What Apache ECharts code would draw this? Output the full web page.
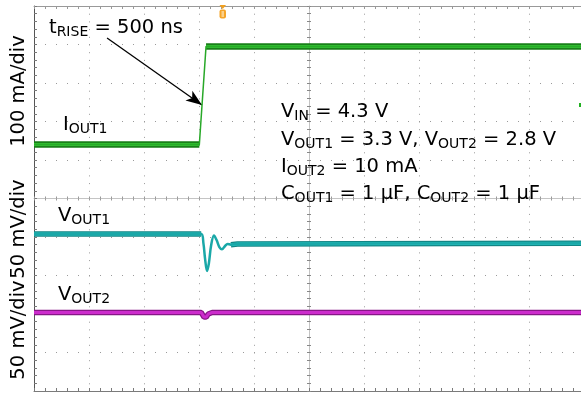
<!DOCTYPE html>
<html><head><meta charset="utf-8">
<script src="https://cdn.jsdelivr.net/npm/echarts/dist/echarts.min.js"></script>
<style>html,body{margin:0;padding:0;background:#fff}#c{width:581px;height:396px}</style>
</head><body><div id="c"></div>
<script>
// time in µs (5 µs/div), values read from the scope shot
const ioutTime = [0, 15.03, 15.64, 50];
const ioutMA   = [0, 0, 255, 255];               // I_OUT1 step (mA, 100 mA/div)
const vout1Time = [0, 15.2, 15.4, 15.55, 15.73, 15.9, 16.1, 16.36, 16.6, 16.85, 17.09, 17.35, 17.6, 17.9, 18.5, 50];
const vout1mV   = [0, 0, -12, -32, -48, -38, -15, -2, -8, -17, -20, -16, -13, -14, -13, -12]; // ΔV_OUT1 (mV, 50 mV/div)
const vout2Time = [0, 15.2, 15.45, 15.65, 15.85, 16.2, 50];
const vout2mV   = [0, 0, -6, -6, -2, 0, 0];      // ΔV_OUT2 (mV, 50 mV/div)
const scaleLabels = ['100 mA/div', '50 mV/div', '50 mV/div'];
const arrowFrom = [6.64, 277];   // (µs, mA)
const arrowTo   = [15.27, 103];

const pairs = (ts, vs) => ts.map((t, i) => [t, vs[i]]);
// steady parts (noise band) exclude the transient window [a, b]
function steady(ts, vs, a, b) {
  const out = []; let prevIn = null;
  ts.forEach((t, i) => {
    const isIn = (t <= a || t >= b);
    if (isIn) {
      if (prevIn !== null && prevIn <= a && t >= b) out.push('-');
      out.push([t, vs[i]]); prevIn = t;
    } else if (out.length && out[out.length - 1] !== '-') { out.push('-'); prevIn = null; }
  });
  return out;
}

const FONT = 'DejaVu Sans';
const rich = {
  m: {fontFamily: FONT, fontSize: 19.5, lineHeight: 22, fill: '#000'},
  s: {fontFamily: FONT, fontSize: 14, lineHeight: 10, verticalAlign: 'bottom', fill: '#000'}
};
function label(x, baseline, text) {
  return {type: 'text', x: x, y: baseline - 17, silent: true, z: 50,
    style: {text: text, rich: rich, verticalAlign: 'top', align: 'left'}};
}
function vlabel(cx, cy, text) {
  return {type: 'text', x: cx, y: cy, rotation: Math.PI / 2, silent: true, z: 50,
    style: {text: text, fontFamily: FONT, fontSize: 19.5, fill: '#000', align: 'center', verticalAlign: 'middle'}};
}

const AX = '#7a7a7a';
const baseX = {type: 'value', min: 0, max: 50, interval: 5, axisLabel: {show: false}, splitLine: {show: false}};
const baseY = {type: 'value', min: 0, max: 10, interval: 1, axisLabel: {show: false}, splitLine: {show: false}};

const chart = echarts.init(document.getElementById('c'), null, {renderer: 'canvas'});
chart.setOption({
  animation: false,
  backgroundColor: '#fff',
  grid: {left: 34, top: 6, width: 550, height: 385, outerBoundsMode: 'none', containLabel: false},
  xAxis: [
    Object.assign({}, baseX, {position: 'bottom', axisLine: {onZero: false, lineStyle: {color: AX}},
      axisTick: {show: true, inside: true, length: 3, lineStyle: {color: AX}},
      minorTick: {show: true, splitNumber: 5, length: 3, lineStyle: {color: AX}},
      splitLine: {show: true, lineStyle: {color: '#9a9a9a', width: 1, type: [1, 6.7]}}}),
    Object.assign({}, baseX, {position: 'top', axisLine: {onZero: false, lineStyle: {color: '#999'}},
      axisTick: {show: true, inside: true, length: 3, lineStyle: {color: '#999'}},
      minorTick: {show: true, splitNumber: 5, length: 3, lineStyle: {color: '#999'}}}),
    Object.assign({}, baseX, {position: 'bottom', offset: -192.5, axisLine: {onZero: false, lineStyle: {color: '#c4c4c4'}},
      axisTick: {show: true, inside: true, length: 2, lineStyle: {color: '#999'}},
      minorTick: {show: true, splitNumber: 5, length: 2, lineStyle: {color: '#999'}}}),
    Object.assign({}, baseX, {position: 'bottom', offset: -192.5, axisLine: {show: false},
      axisTick: {show: true, inside: false, length: 2, lineStyle: {color: '#999'}},
      minorTick: {show: true, splitNumber: 5, length: 2, lineStyle: {color: '#999'}}})
  ],
  yAxis: [
    Object.assign({}, baseY, {position: 'left', axisLine: {onZero: false, lineStyle: {color: '#555'}},
      axisTick: {show: true, inside: true, length: 3, lineStyle: {color: AX}},
      minorTick: {show: true, splitNumber: 5, length: 3, lineStyle: {color: AX}},
      splitLine: {show: true, lineStyle: {color: '#9a9a9a', width: 1, type: [1, 10]}}}),
    Object.assign({}, baseY, {position: 'left', offset: -275, axisLine: {onZero: false, lineStyle: {color: '#c4c4c4'}},
      axisTick: {show: true, inside: true, length: 2, lineStyle: {color: '#888'}},
      minorTick: {show: true, splitNumber: 5, length: 2, lineStyle: {color: '#888'}}}),
    Object.assign({}, baseY, {position: 'left', offset: -275, axisLine: {show: false},
      axisTick: {show: true, inside: false, length: 2, lineStyle: {color: '#888'}},
      minorTick: {show: true, splitNumber: 5, length: 2, lineStyle: {color: '#888'}}}),
    {type: 'value', min: -640, max: 360, show: false},   // I_OUT1 mA
    {type: 'value', min: -204, max: 296, show: false},   // V_OUT1 mV
    {type: 'value', min: -102, max: 398, show: false}    // V_OUT2 mV
  ],
  series: [
    {type: 'line', name: 'IOUT1 band', yAxisIndex: 3, showSymbol: false, z: 3, connectNulls: false,
      data: steady(ioutTime, ioutMA, 15.03, 15.64), lineStyle: {color: '#197f19', width: 6.5}},
    {type: 'line', name: 'IOUT1 core', yAxisIndex: 3, showSymbol: false, z: 4, connectNulls: false,
      data: steady(ioutTime, ioutMA, 15.03, 15.64), lineStyle: {color: '#2fc22f', width: 3}},
    {type: 'line', name: 'IOUT1', yAxisIndex: 3, showSymbol: false, z: 5,
      data: pairs(ioutTime, ioutMA), lineStyle: {color: '#28a828', width: 1.5},
      markLine: {silent: true, symbol: ['none', 'arrow'], symbolSize: [9, 16], animation: false,
        label: {show: false}, lineStyle: {color: '#000', width: 1.3, type: 'solid'},
        data: [[{coord: arrowFrom}, {coord: arrowTo}]]}},
    {type: 'line', name: 'VOUT1 band', yAxisIndex: 4, showSymbol: false, z: 3, connectNulls: false,
      data: steady(vout1Time, vout1mV, 15.2, 17.9), lineStyle: {color: '#128585', width: 5.5}},
    {type: 'line', name: 'VOUT1 core', yAxisIndex: 4, showSymbol: false, z: 4, connectNulls: false,
      data: steady(vout1Time, vout1mV, 15.2, 17.9), lineStyle: {color: '#2ccaca', width: 3}},
    {type: 'line', name: 'VOUT1', yAxisIndex: 4, showSymbol: false, z: 5, smooth: 0.35,
      data: pairs(vout1Time, vout1mV), lineStyle: {color: '#1aa8a8', width: 2.5}},
    {type: 'line', name: 'VOUT2 band', yAxisIndex: 5, showSymbol: false, z: 3,
      data: pairs(vout2Time, vout2mV), lineStyle: {color: '#861686', width: 5.5}},
    {type: 'line', name: 'VOUT2', yAxisIndex: 5, showSymbol: false, z: 4,
      data: pairs(vout2Time, vout2mV), lineStyle: {color: '#cc2ccc', width: 3}}
  ],
  graphic: [
    label(49, 34, '{m|t}{s|RISE}{m| = 500 ns}'),
    label(63, 131, '{m|I}{s|OUT1}'),
    label(58, 222, '{m|V}{s|OUT1}'),
    label(58, 301, '{m|V}{s|OUT2}'),
    label(281, 118, '{m|V}{s|IN}{m| = 4.3 V}'),
    label(281, 146, '{m|V}{s|OUT1}{m| = 3.3 V, V}{s|OUT2}{m| = 2.8 V}'),
    label(281, 173, '{m|I}{s|OUT2}{m| = 10 mA}'),
    label(281, 200, '{m|C}{s|OUT1}{m| = 1 µF, C}{s|OUT2}{m| = 1 µF}'),
    vlabel(19, 91, scaleLabels[0]),
    vlabel(19, 229, scaleLabels[1]),
    vlabel(19, 330, scaleLabels[2]),
    // trigger marker (orange) and channel marker (green)
    {type: 'polygon', silent: true, z: 40, shape: {points: [[219.5, 5], [226, 5], [222.75, 9]]}, style: {fill: '#f0a020'}},
    {type: 'rect', silent: true, z: 40, shape: {x: 219.5, y: 9.5, width: 6.5, height: 9, r: 2}, style: {fill: '#f5a52a'}},
    {type: 'rect', silent: true, z: 41, shape: {x: 221.5, y: 11, width: 2.5, height: 6}, style: {fill: '#fbd08a'}},
    {type: 'rect', silent: true, z: 40, shape: {x: 579, y: 103, width: 3, height: 4}, style: {fill: '#22b022'}}
  ]
});
</script></body></html>
